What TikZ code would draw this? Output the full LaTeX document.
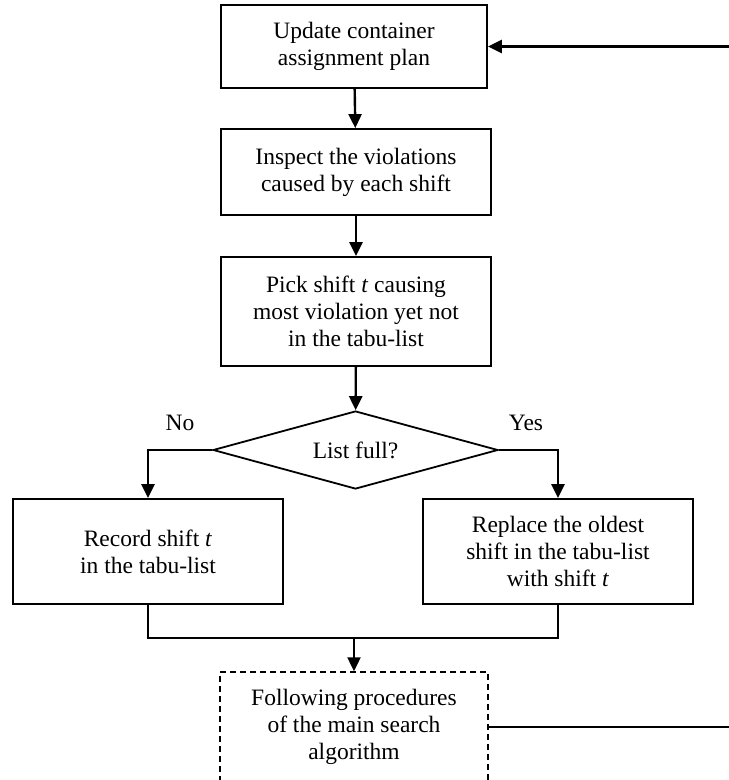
\documentclass[tikz,border=0pt]{standalone}
\usepackage{fontspec}
\setmainfont{Liberation Serif}
\usetikzlibrary{shapes.geometric,arrows.meta,positioning}

\begin{document}
\begin{tikzpicture}[
  x=1pt, y=-1pt,
  >={Triangle[length=14pt,width=13pt]},
  box/.style={draw=black, line width=1.8pt, fill=white, minimum width=270pt, minimum height=86pt, align=center, inner sep=2pt, font=\fontsize{23.5}{27.2}\selectfont},
  decide/.style={draw=black, line width=1.8pt, diamond, aspect=3.65, inner sep=0pt, minimum width=285pt, minimum height=78pt, font=\fontsize{23.5}{27.2}\selectfont},
  lbl/.style={font=\fontsize{23.5}{27.2}\selectfont},
  arr/.style={->, line width=2.4pt, black},
  link/.style={line width=2.4pt, black}
]
\useasboundingbox (0,0) rectangle (729,780);

% Main chain
\node[box, minimum width=266pt, minimum height=83pt] (upd) at (354,46.5) {Update container\\assignment plan};
\node[box] (insp) at (356,172) {Inspect the violations\\caused by each shift};
\node[box, minimum height=109pt] (pick) at (356,311.5) {Pick shift \textit{t} causing\\most violation yet not\\in the tabu-list};
\node[decide] (full) at (355.5,450) {List full?};

\draw[arr] (upd) -- (insp);
\draw[arr] (insp) -- (pick);
\draw[arr] (pick) -- (full);

% Branches
\node[box, minimum height=105pt] (rec) at (148,551.5) {Record shift \textit{t}\\in the tabu-list};
\node[box, minimum height=105pt] (repl) at (558,551.5) {Replace the oldest\\shift in the tabu-list\\with shift \textit{t}};
\node[lbl] (no) at (180,423) {No};
\node[lbl] (yes) at (526,423) {Yes};

\draw[arr] (full.west) -| (rec.north);
\draw[arr] (full.east) -| (repl.north);

% Merge and main search
\coordinate (mrg) at (354,638);
\node[box, line width=1.5pt, dash pattern=on 6pt off 4pt, minimum width=268pt, minimum height=110pt] (follow) at (354,727) {Following procedures\\of the main search\\algorithm};

\draw[link] (rec.south) |- (mrg) -| (repl.south);
\draw[arr] (mrg) -- (follow.north);

% Feedback loop
\coordinate (fbin) at (729,46.5);
\coordinate (fbout) at (729,727);
\draw[arr] (fbin) -- (upd.east);
\draw[link] (follow.east) -- (fbout);
\end{tikzpicture}
\end{document}
